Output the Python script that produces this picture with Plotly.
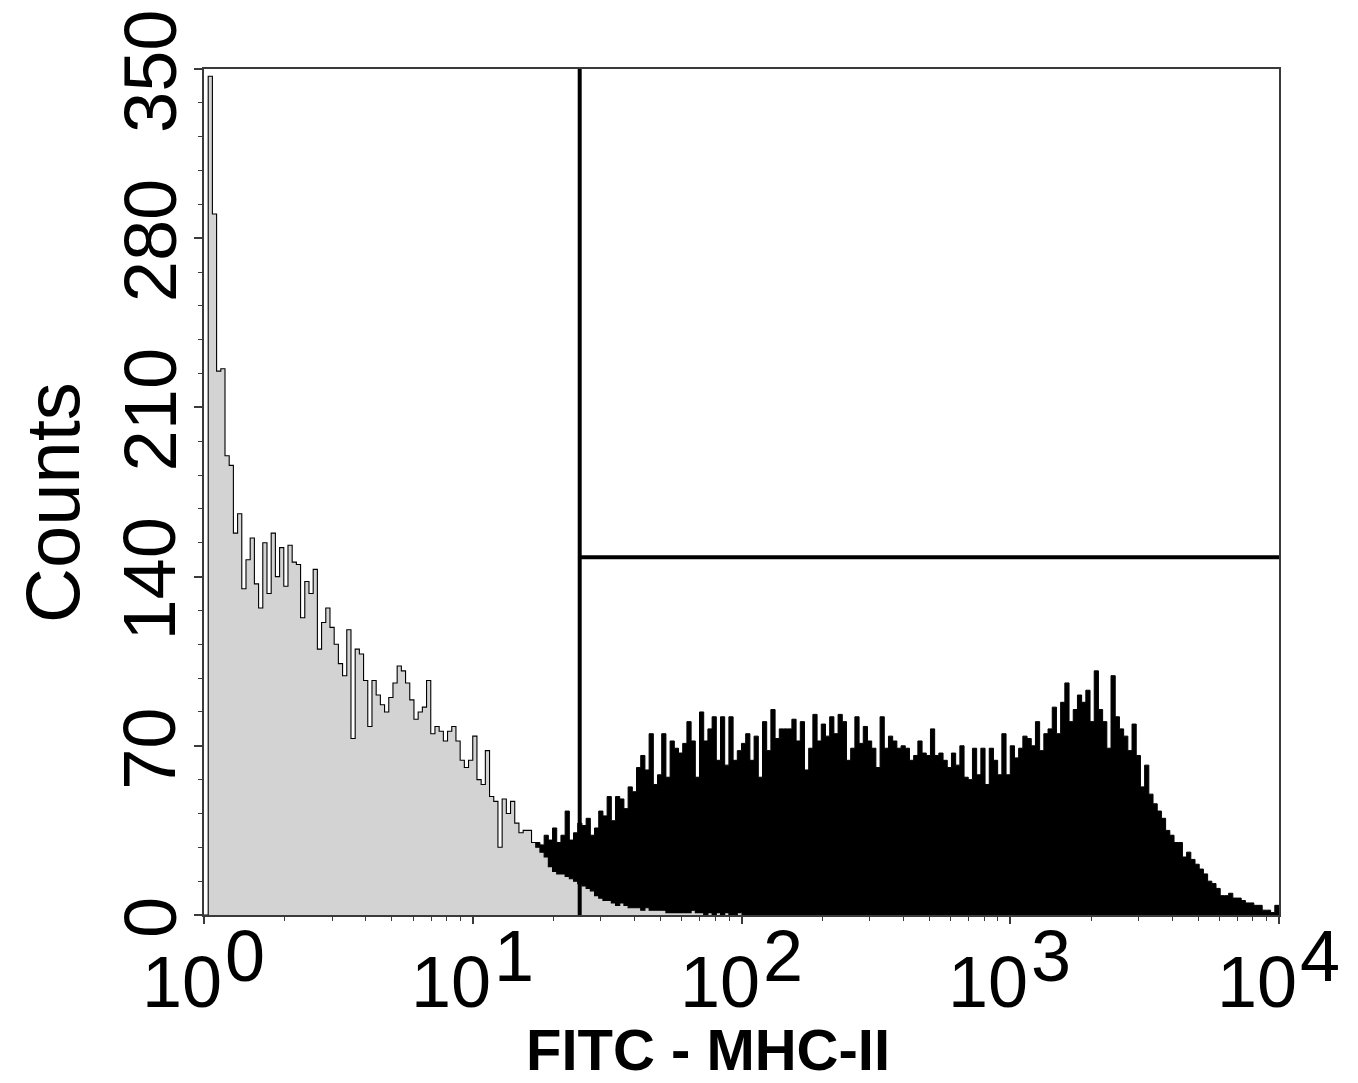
import plotly.graph_objects as go

# ---------------- data ----------------
N_CHANNELS = 256          # histogram channels spanning the 4 decades
DECADES = 4

# control (grey) histogram, channels 0..127
GREY_START = 0
GREY_COUNTS = [
    0, 347, 290, 225, 226, 190, 186, 158, 166, 135,
    147, 156, 137, 127, 154, 133, 158, 140, 152, 136,
    153, 146, 145, 123, 138, 133, 143, 110, 121, 127,
    119, 112, 104, 99, 118, 73, 110, 108, 97, 78,
    97, 91, 87, 84, 90, 96, 103, 101, 96, 89,
    81, 84, 86, 97, 75, 78, 76, 72, 76, 78,
    72, 64, 61, 64, 74, 56, 54, 68, 49, 47,
    28, 48, 42, 47, 38, 34, 35, 35, 30, 28,
    26, 24, 20, 18, 17, 17, 16, 15, 14, 13,
    12, 11, 10, 8, 7, 6, 6, 5, 4, 5,
    4, 3, 3, 3, 2, 3, 2, 2, 2, 2,
    1, 1, 1, 1, 1, 1, 2, 1, 1, 0,
    1, 0, 1, 0, 1, 0, 0, 1,
]

# stained (black) histogram, channels 75..255
BLACK_START = 75
BLACK_COUNTS = [
    18, 20, 22, 26, 30, 29, 33, 31, 36, 30,
    33, 43, 31, 34, 38, 37, 40, 33, 36, 43,
    41, 49, 39, 49, 48, 44, 53, 51, 61, 66,
    60, 75, 54, 58, 75, 57, 72, 69, 67, 71,
    80, 72, 57, 84, 72, 77, 82, 64, 82, 62,
    82, 64, 68, 71, 75, 64, 74, 57, 80, 68,
    85, 73, 77, 77, 77, 81, 72, 80, 60, 69,
    83, 72, 79, 74, 82, 75, 83, 80, 64, 69,
    82, 71, 78, 72, 69, 61, 82, 69, 74, 72,
    69, 70, 69, 64, 66, 72, 67, 66, 77, 66,
    67, 64, 61, 67, 62, 70, 57, 56, 69, 58,
    69, 54, 69, 64, 58, 75, 58, 70, 65, 69,
    74, 73, 70, 80, 68, 75, 77, 86, 75, 88,
    96, 80, 85, 91, 88, 93, 80, 101, 85, 80,
    69, 99, 82, 77, 74, 68, 79, 66, 53, 62,
    50, 46, 43, 40, 35, 33, 30, 30, 24, 26,
    23, 21, 19, 17, 14, 13, 11, 8, 8, 9,
    7, 7, 6, 5, 5, 4, 4, 2, 2, 1,
    4,
]

GATE_X = 25          # vertical marker position (FITC units)
GATE_Y = 148         # horizontal marker level (counts)
GATE_X_END = 10000

Y_TICKS = [0, 70, 140, 210, 280, 350]
Y_MINOR = [14, 28, 42, 56, 84, 98, 112, 126, 154, 168, 182, 196,
           224, 238, 252, 266, 294, 308, 322, 336]
X_TICK_EXP = [0, 1, 2, 3, 4]
X_TITLE = "FITC - MHC-II"
Y_TITLE = "Counts"


def step_xy(start, counts):
    xs, ys = [], []
    for k, c in enumerate(counts):
        ch = start + k
        xs.append(10 ** (DECADES * ch / N_CHANNELS))
        ys.append(c)
    ch_end = start + len(counts)
    xs.append(10 ** (DECADES * ch_end / N_CHANNELS))
    ys.append(counts[-1])
    return xs, ys


bx, by = step_xy(BLACK_START, BLACK_COUNTS)
gx, gy = step_xy(GREY_START, GREY_COUNTS)

fig = go.Figure()
fig.add_trace(go.Scatter(x=bx, y=by, mode="lines", line=dict(shape="hv", color="black", width=1),
                         fill="tozeroy", fillcolor="black", hoverinfo="skip"))
fig.add_trace(go.Scatter(x=gx, y=gy, mode="lines", line=dict(shape="hv", color="black", width=1.1),
                         fill="tozeroy", fillcolor="#d3d3d3", hoverinfo="skip"))
# gate markers
fig.add_trace(go.Scatter(x=[GATE_X, GATE_X], y=[0, 350], mode="lines",
                         line=dict(color="black", width=4), hoverinfo="skip"))
fig.add_trace(go.Scatter(x=[GATE_X, GATE_X_END], y=[GATE_Y, GATE_Y], mode="lines",
                         line=dict(color="black", width=4), hoverinfo="skip"))

axis_col = "#3a3a3a"
minor_x = [m * 10 ** k for k in range(4) for m in range(2, 10)]
TICK_FAMILY = "Liberation Sans, Arial, Helvetica, sans-serif"

fig.update_xaxes(type="log", range=[0, 4], automargin=False, showline=True, linecolor=axis_col,
                 linewidth=1.5, mirror=True, ticks="outside", ticklen=7, tickwidth=1.5,
                 tickcolor=axis_col,
                 tickmode="array", tickvals=[10 ** e for e in X_TICK_EXP], showticklabels=False,
                 minor=dict(tickmode="array", tickvals=minor_x, ticks="outside", ticklen=4,
                            tickwidth=1.2, tickcolor=axis_col),
                 showgrid=False, zeroline=False)
fig.update_yaxes(range=[0, 350], automargin=False, showline=True, linecolor=axis_col,
                 linewidth=1.5, mirror=True,
                 ticks="outside", ticklen=8, tickwidth=1.5, tickcolor=axis_col,
                 tickmode="array", tickvals=Y_TICKS, showticklabels=False,
                 minor=dict(tickmode="array", tickvals=Y_MINOR, ticks="outside", ticklen=4,
                            tickwidth=1.2, tickcolor=axis_col),
                 showgrid=False, zeroline=False)

ann = []
tick_font = dict(family=TICK_FAMILY, size=72, color="black")
ytick_font = dict(family=TICK_FAMILY, size=74, color="black")
for v in Y_TICKS:
    ann.append(dict(x=0, xref="paper", y=v, yref="y", text=str(v), showarrow=False,
                    textangle=-90, xanchor="center", yanchor="middle", xshift=-54, yshift=-3,
                    font=ytick_font))
for e in X_TICK_EXP:
    ann.append(dict(x=e, xref="x", y=0, yref="paper", text="10", showarrow=False,
                    xanchor="right", yanchor="middle", xshift=20, yshift=-67, font=tick_font))
    ann.append(dict(x=e, xref="x", y=0, yref="paper", text=str(e), showarrow=False,
                    xanchor="left", yanchor="middle", xshift=19, yshift=-41, font=tick_font))
ann.append(dict(x=0, xref="paper", y=0, yref="paper", text=X_TITLE, showarrow=False,
                xanchor="center", yanchor="middle", xshift=504, yshift=-134,
                font=dict(family="Liberation Sans, Arial", size=58, color="black", weight="bold")))
ann.append(dict(x=0, xref="paper", y=0.5, yref="paper", text=Y_TITLE, showarrow=False,
                textangle=-90, xanchor="center", yanchor="middle", xshift=-152, yshift=-11,
                font=dict(family="Liberation Sans, Arial", size=76, color="black")))

fig.update_layout(width=1350, height=1075, margin=dict(l=196, r=79, t=61, b=168, autoexpand=False),
                  plot_bgcolor="white", paper_bgcolor="white", showlegend=False,
                  annotations=ann)

fig.write_html("out.html")
